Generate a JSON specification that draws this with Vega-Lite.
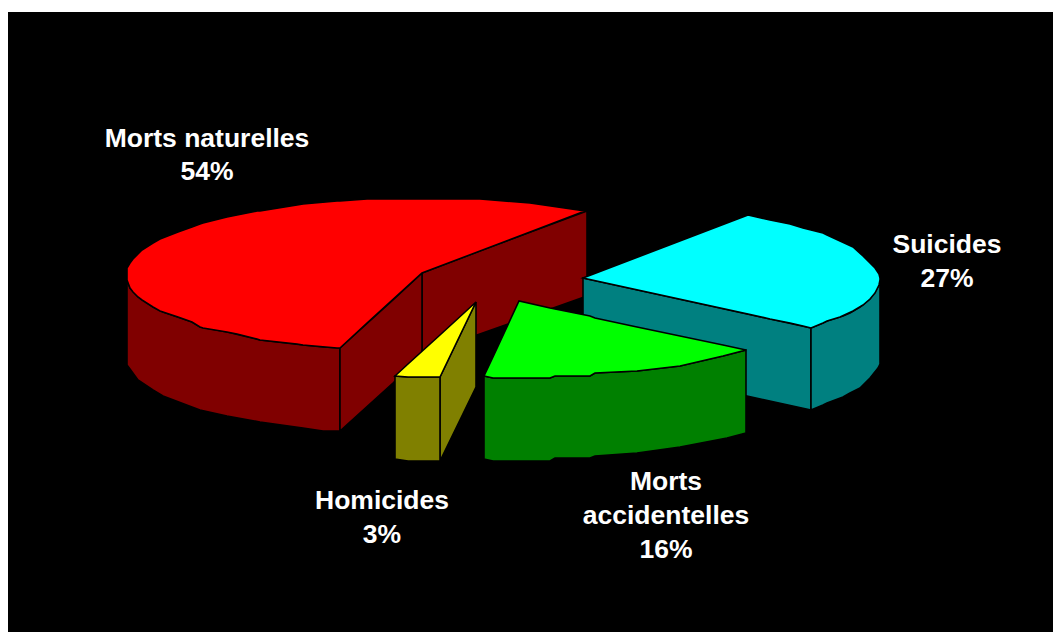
{"$schema":"https://vega.github.io/schema/vega-lite/v6.json","width":1045,"height":620,"padding":{"left":8,"top":12,"right":0,"bottom":0},"autosize":"none","background":"white","view":{"fill":"black","stroke":null},
"layer":[
{"data":{"values":[
{"part":"red side","x":127,"top":280,"bottom":365},{"part":"red side","x":130,"top":288,"bottom":369},{"part":"red side","x":138,"top":297,"bottom":380},{"part":"red side","x":153,"top":307,"bottom":390},{"part":"red side","x":163,"top":312,"bottom":396},{"part":"red side","x":192,"top":322,"bottom":407},{"part":"red side","x":200,"top":327,"bottom":410},{"part":"red side","x":227,"top":332,"bottom":416},{"part":"red side","x":260,"top":340,"bottom":422},{"part":"red side","x":303,"top":345,"bottom":428},{"part":"red side","x":323,"top":347,"bottom":431},{"part":"red side","x":340,"top":348,"bottom":431},
{"part":"red cut right","x":422,"top":273,"bottom":355},{"part":"red cut right","x":477,"top":252,"bottom":335},{"part":"red cut right","x":587,"top":211,"bottom":296},
{"part":"red cut left","x":340,"top":348,"bottom":431},{"part":"red cut left","x":393,"top":300,"bottom":383},{"part":"red cut left","x":422,"top":273,"bottom":355},
{"part":"red top","x":127,"top":268,"bottom":280},{"part":"red top","x":130,"top":263,"bottom":288},{"part":"red top","x":133,"top":259,"bottom":292},{"part":"red top","x":138,"top":254,"bottom":297},{"part":"red top","x":142,"top":250,"bottom":300},{"part":"red top","x":153,"top":243,"bottom":307},{"part":"red top","x":160,"top":239,"bottom":311},{"part":"red top","x":178,"top":232,"bottom":317},{"part":"red top","x":192,"top":227,"bottom":322},{"part":"red top","x":200,"top":224,"bottom":327},{"part":"red top","x":203,"top":223,"bottom":328},{"part":"red top","x":227,"top":217,"bottom":332},{"part":"red top","x":237,"top":215,"bottom":334},{"part":"red top","x":257,"top":211,"bottom":339},{"part":"red top","x":260,"top":211,"bottom":340},{"part":"red top","x":297,"top":205,"bottom":344},{"part":"red top","x":303,"top":204,"bottom":345},{"part":"red top","x":337,"top":201,"bottom":348},{"part":"red top","x":340,"top":201,"bottom":348},{"part":"red top","x":367,"top":199,"bottom":323},{"part":"red top","x":422,"top":199,"bottom":273},{"part":"red top","x":480,"top":199,"bottom":251},{"part":"red top","x":530,"top":203,"bottom":232},{"part":"red top","x":585,"top":211,"bottom":211},
{"part":"cyan cut","x":583,"top":278,"bottom":363},{"part":"cyan cut","x":747,"top":314,"bottom":396},{"part":"cyan cut","x":811,"top":328,"bottom":410},
{"part":"cyan side","x":811,"top":328,"bottom":410},{"part":"cyan side","x":823,"top":323,"bottom":405},{"part":"cyan side","x":827,"top":321,"bottom":403},{"part":"cyan side","x":843,"top":316,"bottom":397},{"part":"cyan side","x":850,"top":313,"bottom":393},{"part":"cyan side","x":860,"top":307,"bottom":388},{"part":"cyan side","x":870,"top":299,"bottom":378},{"part":"cyan side","x":878,"top":287,"bottom":368},{"part":"cyan side","x":880,"top":280,"bottom":364},
{"part":"cyan top","x":583,"top":278,"bottom":278},{"part":"cyan top","x":748,"top":215,"bottom":314},{"part":"cyan top","x":770,"top":220,"bottom":319},{"part":"cyan top","x":790,"top":224,"bottom":323},{"part":"cyan top","x":803,"top":228,"bottom":326},{"part":"cyan top","x":811,"top":230,"bottom":328},{"part":"cyan top","x":823,"top":233,"bottom":323},{"part":"cyan top","x":827,"top":235,"bottom":321},{"part":"cyan top","x":840,"top":241,"bottom":317},{"part":"cyan top","x":853,"top":247,"bottom":311},{"part":"cyan top","x":863,"top":256,"bottom":305},{"part":"cyan top","x":870,"top":263,"bottom":299},{"part":"cyan top","x":875,"top":268,"bottom":293},{"part":"cyan top","x":879,"top":274,"bottom":285},{"part":"cyan top","x":880,"top":278,"bottom":280},
{"part":"yellow cut","x":440,"top":377,"bottom":461},{"part":"yellow cut","x":476,"top":302,"bottom":387},
{"part":"yellow side","x":395,"top":376,"bottom":459},{"part":"yellow side","x":408,"top":377,"bottom":461},{"part":"yellow side","x":440,"top":377,"bottom":461},
{"part":"yellow top","x":395,"top":376,"bottom":376},{"part":"yellow top","x":408,"top":364,"bottom":377},{"part":"yellow top","x":440,"top":335,"bottom":377},{"part":"yellow top","x":476,"top":302,"bottom":302},
{"part":"green side","x":484,"top":376,"bottom":459},{"part":"green side","x":493,"top":378,"bottom":461},{"part":"green side","x":550,"top":378,"bottom":461},{"part":"green side","x":555,"top":376,"bottom":458},{"part":"green side","x":590,"top":376,"bottom":458},{"part":"green side","x":595,"top":373,"bottom":456},{"part":"green side","x":637,"top":371,"bottom":453},{"part":"green side","x":680,"top":366,"bottom":447},{"part":"green side","x":727,"top":355,"bottom":438},{"part":"green side","x":746,"top":350,"bottom":433},
{"part":"green top","x":484,"top":376,"bottom":376},{"part":"green top","x":493,"top":357,"bottom":378},{"part":"green top","x":519,"top":301,"bottom":378},{"part":"green top","x":550,"top":308,"bottom":378},{"part":"green top","x":555,"top":309,"bottom":376},{"part":"green top","x":590,"top":316,"bottom":376},{"part":"green top","x":595,"top":318,"bottom":373},{"part":"green top","x":637,"top":327,"bottom":371},{"part":"green top","x":680,"top":336,"bottom":366},{"part":"green top","x":723,"top":345,"bottom":356},{"part":"green top","x":746,"top":350,"bottom":350}
]},
"mark":{"type":"area","stroke":"black","strokeWidth":1.6,"opacity":1,"clip":true},
"encoding":{
"x":{"field":"x","type":"quantitative","scale":{"domain":[8,1053],"nice":false,"zero":false},"axis":null},
"y":{"field":"top","type":"quantitative","scale":{"domain":[632,12],"nice":false,"zero":false},"axis":null},
"y2":{"field":"bottom"},
"color":{"field":"part","type":"nominal","legend":null,"sort":null,"scale":{"domain":["red side","red cut right","red cut left","red top","cyan cut","cyan side","cyan top","yellow cut","yellow side","yellow top","green side","green top"],"range":["#800000","#800000","#800000","#ff0000","#008080","#008080","#00ffff","#808000","#808000","#ffff00","#008000","#00ff00"]}}
}},
{"data":{"values":[
{"label":"Morts naturelles","x":207,"y":139},{"label":"54%","x":207,"y":172},
{"label":"Suicides","x":947,"y":245},{"label":"27%","x":947,"y":279},
{"label":"Morts","x":666,"y":482},{"label":"accidentelles","x":666,"y":516},{"label":"16%","x":666,"y":550},
{"label":"Homicides","x":382,"y":501},{"label":"3%","x":382,"y":535}
]},
"mark":{"type":"text","font":"Liberation Sans","fontWeight":"bold","fontSize":26.5,"color":"white","align":"center","baseline":"middle"},
"encoding":{
"x":{"field":"x","type":"quantitative","scale":{"domain":[8,1053],"nice":false,"zero":false},"axis":null},
"y":{"field":"y","type":"quantitative","scale":{"domain":[632,12],"nice":false,"zero":false},"axis":null},
"text":{"field":"label"}
}}
]}
